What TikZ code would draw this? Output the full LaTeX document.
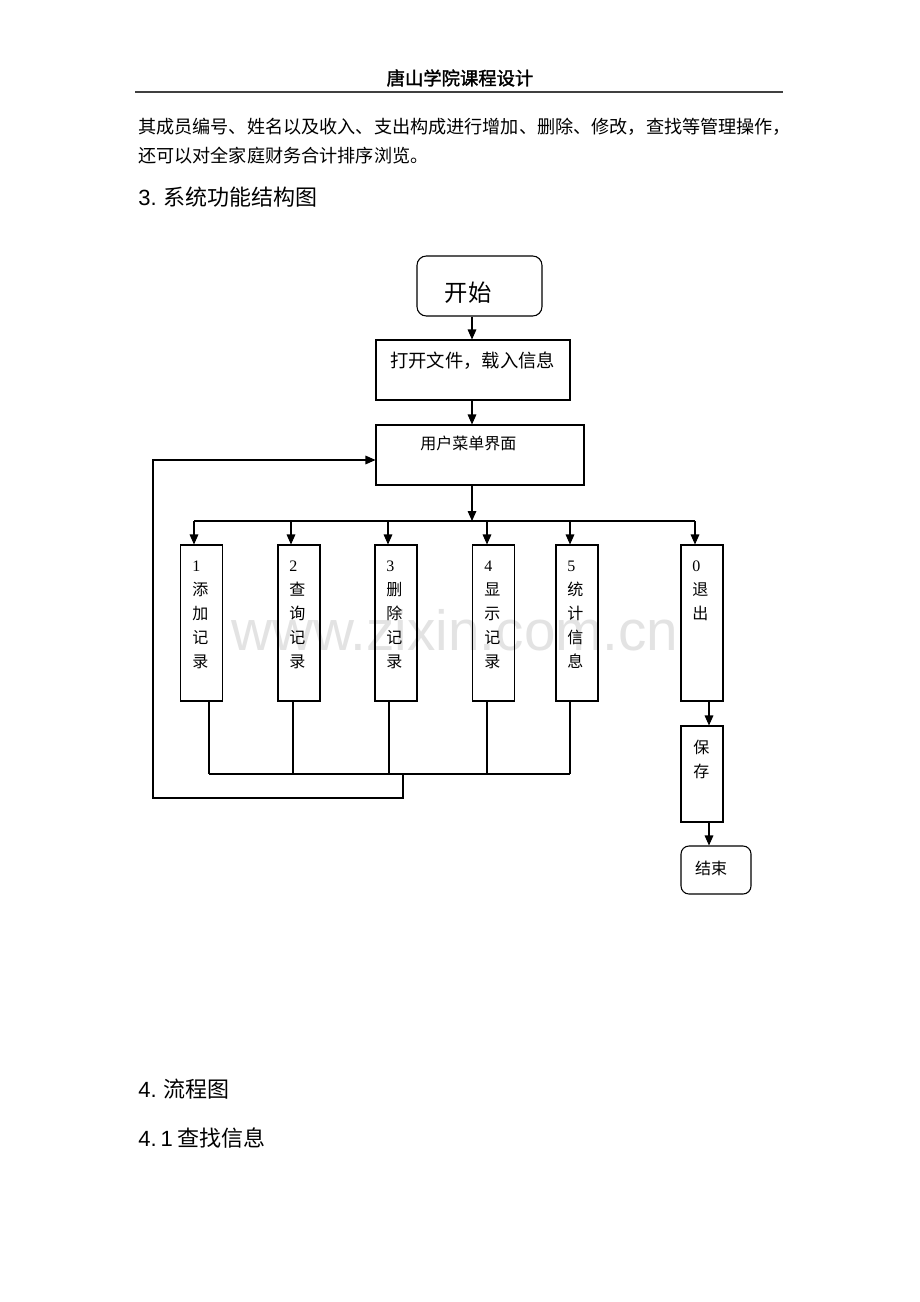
\documentclass[tikz,border=0pt]{standalone}
\usepackage{fontspec}
\setmainfont{Liberation Serif}
\newfontfamily\cjk{Noto Sans CJK SC}
\newfontfamily\cjkb[FakeBold=1.5]{Noto Sans CJK SC}
\newfontfamily\arialf{Liberation Sans}
\usetikzlibrary{arrows.meta}
\newcommand\colt[1]{\vtop{\baselineskip=18pt\lineskiplimit=-20pt\lineskip=0pt\halign{##\hfil\cr#1\crcr}}}
\tikzset{
  frame/.style={draw, line width=0.8pt, inner sep=0pt},
  rbox/.style={frame, rounded corners=7pt},
  txt/.style={inner sep=0pt, font=\cjk},
  arr/.style={line width=0.8pt, line join=miter, -{Triangle[length=7.5pt,width=6.5pt]}},
  ln/.style={line width=0.8pt, line join=miter},
  colbox/.style={frame, minimum width=31.5pt, minimum height=117pt},
  coltxt/.style={inner sep=0pt, anchor=base west, font=\cjk\fontsize{12pt}{18pt}\selectfont},
}
\begin{document}
\begin{tikzpicture}[x=0.75pt,y=-0.75pt]
\useasboundingbox[fill=white] (0,0) rectangle (920,1302);

% watermark
\node[anchor=base west, inner sep=0pt, font=\arialf\fontsize{42.5pt}{50pt}\selectfont, text=black!11] (wm) at (231,650) {www.zixin.com.cn};

% header
\node[anchor=base, inner sep=0pt, font=\cjkb\fontsize{13.75pt}{16pt}\selectfont] (head) at (460,85) {唐山学院课程设计};
\coordinate (hl) at (135,92);
\coordinate (hr) at (783,92);
\draw[line width=1.1pt, black!75] (hl) -- (hr);

\node[txt, anchor=base west, font=\cjk\fontsize{13.6pt}{16pt}\selectfont] (p1) at (138,134) {其成员编号、姓名以及收入、支出构成进行增加、删除、修改，查找等管理操作，};
\node[txt, anchor=base west, font=\cjk\fontsize{13.6pt}{16pt}\selectfont] (p2) at (138,163) {还可以对全家庭财务合计排序浏览。};
\node[inner sep=0pt, anchor=base west, font=\fontsize{16.5pt}{19pt}\selectfont] (h3) at (138,205) {\arialf 3.\hspace{5pt}{\cjk 系统功能结构图}};
\node[inner sep=0pt, anchor=base west, font=\fontsize{16.5pt}{19pt}\selectfont] (h4) at (138,1097) {\arialf 4.\hspace{5pt}{\cjk 流程图}};
\node[inner sep=0pt, anchor=base west, font=\fontsize{16.5pt}{19pt}\selectfont] (h41) at (138,1146) {\arialf 4.\hspace{3pt}1\hspace{3.5pt}{\cjk 查找信息}};

% main boxes
\node[rbox, minimum width=93.75pt, minimum height=45pt] (start) at (479.5,286) {};
\node[txt, anchor=base, font=\cjk\fontsize{17.5pt}{20pt}\selectfont] (tstart) at (468,301) {开始};
\node[frame, minimum width=145.5pt, minimum height=45pt] (open) at (473,370) {};
\node[txt, anchor=base west, font=\cjk\fontsize{13.75pt}{16pt}\selectfont] (topen) at (390,367) {打开文件，载入信息};
\node[frame, minimum width=156pt, minimum height=45pt] (menu) at (480,455) {};
\node[txt, anchor=base west, font=\cjk\fontsize{12pt}{14pt}\selectfont] (tmenu) at (420,449) {用户菜单界面};

% column boxes
\node[colbox] (b1) at (201.5,623) {};
\node[colbox] (b2) at (299,623) {};
\node[colbox] (b3) at (396,623) {};
\node[colbox] (b4) at (493.5,623) {};
\node[colbox] (b5) at (577,623) {};
\node[colbox] (b0) at (702,623) {};
\node[coltxt] (t1) at (192,571) {\colt{\rmfamily 1\cr 添\cr 加\cr 记\cr 录}};
\node[coltxt] (t2) at (289,571) {\colt{\rmfamily 2\cr 查\cr 询\cr 记\cr 录}};
\node[coltxt] (t3) at (386,571) {\colt{\rmfamily 3\cr 删\cr 除\cr 记\cr 录}};
\node[coltxt] (t4) at (484,571) {\colt{\rmfamily 4\cr 显\cr 示\cr 记\cr 录}};
\node[coltxt] (t5) at (567,571) {\colt{\rmfamily 5\cr 统\cr 计\cr 信\cr 息}};
\node[coltxt] (t0) at (692,571) {\colt{\rmfamily 0\cr 退\cr 出}};

\node[frame, minimum width=31.5pt, minimum height=72pt] (save) at (702,774) {};
\node[coltxt] (tsave) at (693,753) {\colt{保\cr 存}};
\node[frame, rounded corners=6pt, minimum width=52.5pt, minimum height=36pt] (end) at (716,870) {};
\node[txt, anchor=base, font=\cjk\fontsize{12pt}{14pt}\selectfont] (tend) at (711,874) {结束};

% connectors
\coordinate (c) at (472,0);
\coordinate (bus) at (472,521);
\coordinate (a1) at (194,0);
\coordinate (a2) at (291,0);
\coordinate (a3) at (388,0);
\coordinate (a4) at (487,0);
\coordinate (a5) at (570,0);
\coordinate (a0) at (695,0);
\draw[arr] (start.south -| c) -- (open.north -| c);
\draw[arr] (open.south -| c) -- (menu.north -| c);
\draw[arr] (menu.south -| c) -- (bus);
\draw[ln] (bus -| a1) -- (bus -| a0);
\foreach \i in {1,2,3,4,5,0} \draw[arr] (bus -| a\i) -- (b\i.north -| a\i);

\coordinate (d1) at (209,774);
\coordinate (d2) at (293,774);
\coordinate (d3) at (389,774);
\coordinate (d4) at (487,774);
\coordinate (d5) at (570,774);
\foreach \i in {1,...,5} \draw[ln] (b\i.south -| d\i) -- (d\i);
\draw[ln] (d1) -- (d5);
\coordinate (r0) at (403,774);
\coordinate (r1) at (403,798);
\coordinate (r2) at (153,798);
\coordinate (r3) at (153,460);
\draw[arr] (r0) -- (r1) -- (r2) -- (r3) -- (menu.west |- r3);

\coordinate (e) at (709,0);
\draw[arr] (b0.south -| e) -- (save.north -| e);
\draw[arr] (save.south -| e) -- (end.north -| e);
\end{tikzpicture}
\end{document}
